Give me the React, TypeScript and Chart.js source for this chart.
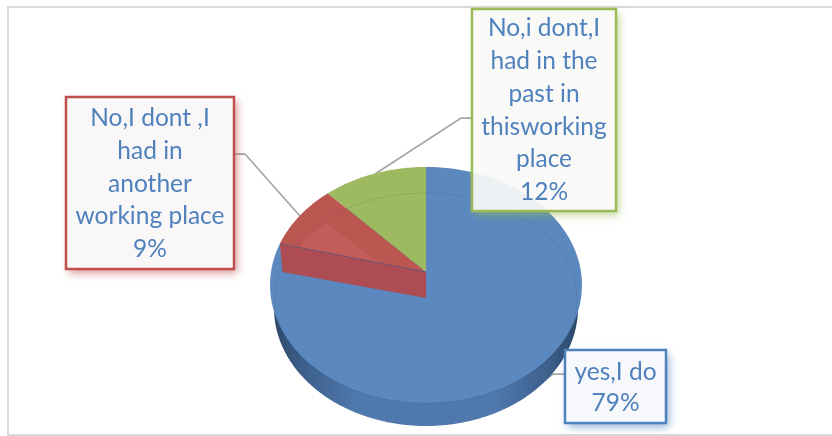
import React, { useEffect, useRef } from "react";
import { Chart, registerables } from "chart.js";

Chart.register(...registerables);

// Survey answers, clockwise from twelve o'clock
const categories = [
  "yes,I do",
  "No,I dont ,I had in another working place",
  "No,i dont,I had in the past in thisworking place",
];
const shares = [79, 9, 12];
const categoryLines = [
  ["yes,I do"],
  ["No,I dont ,I", "had in", "another", "working place"],
  ["No,i dont,I", "had in the", "past in", "thisworking", "place"],
];
const sliceColors = ["#5b88be", "#bb5650", "#9dba60"];

type Layer = { a: number; b: number; k: number; apexDy: number };

// Perspective applied to the top rim and to the rims below it, relative to the pie radius
const topRim: Layer = { a: 155 / 118, b: 116.6 / 118, k: -0.11, apexDy: -13 };
const innerRim: Layer = { a: 146 / 118, b: 103 / 118, k: 0, apexDy: 13 };
const baseRim: Layer = { a: 152 / 118, b: 1, k: 0, apexDy: 23 };

const callouts = [
  { left: 565, top: 350, right: 666, bottom: 423, firstLine: 372, lineStep: 31.5, border: "#4f81bd", fill: "rgba(246,248,251,0.95)", leader: [[565, 374], [553, 374], [525, 396]] },
  { left: 66, top: 97, right: 234, bottom: 269, firstLine: 118.5, lineStep: 32.6, border: "#c0504d", fill: "rgba(249,247,247,0.95)", leader: [[234, 154], [245, 154], [300, 216]] },
  { left: 472, top: 9, right: 616, bottom: 211, firstLine: 28.5, lineStep: 32.7, border: "#9bbb59", fill: "rgba(249,249,248,0.93)", leader: [[472, 118], [461, 118], [375, 174]] },
];

function project(el: any, layer: Layer, angle: number): [number, number] {
  const u = Math.cos(angle);
  const v = Math.sin(angle);
  const w = 1 + layer.k * v;
  const r = el.outerRadius;
  return [el.x + (layer.a * r * u) / w, el.y + layer.apexDy + (layer.b * r * v) / w];
}

function traceRim(ctx: CanvasRenderingContext2D, el: any, layer: Layer, moveFirst: boolean) {
  const steps = Math.max(2, Math.ceil((el.endAngle - el.startAngle) / 0.01));
  for (let i = 0; i <= steps; i++) {
    const p = project(el, layer, el.startAngle + ((el.endAngle - el.startAngle) * i) / steps);
    if (i === 0 && moveFirst) ctx.moveTo(p[0], p[1]);
    else ctx.lineTo(p[0], p[1]);
  }
}

function traceSlice(ctx: CanvasRenderingContext2D, el: any, layer: Layer) {
  ctx.beginPath();
  ctx.moveTo(el.x, el.y + layer.apexDy);
  traceRim(ctx, el, layer, false);
  ctx.closePath();
}

const tiltedPie = {
  id: "tiltedPie",
  beforeDraw(chart: any) {
    const { ctx, width } = chart;
    ctx.save();
    ctx.strokeStyle = "#d9d9d9";
    ctx.lineWidth = 2;
    ctx.beginPath();
    ctx.moveTo(width, 7);
    ctx.lineTo(8, 7);
    ctx.lineTo(8, 435);
    ctx.lineTo(width, 435);
    ctx.stroke();
    ctx.restore();
  },
  beforeDatasetDraw(chart: any) {
    const { ctx } = chart;
    const arcs = chart.getDatasetMeta(0).data;
    const [blue, red] = arcs;

    ctx.save();
    ctx.strokeStyle = "#a6a6a6";
    ctx.lineWidth = 1.75;
    callouts.forEach((c) => {
      ctx.beginPath();
      c.leader.forEach((p, i) => (i ? ctx.lineTo(p[0], p[1]) : ctx.moveTo(p[0], p[1])));
      ctx.stroke();
    });

    // Outer wall
    const wall = ctx.createLinearGradient(blue.x - 154, 0, blue.x + 154, 0);
    wall.addColorStop(0, "#2b4666");
    wall.addColorStop(0.1, "#3d5f8c");
    wall.addColorStop(0.28, "#4f79ad");
    wall.addColorStop(0.72, "#4f79ad");
    wall.addColorStop(0.9, "#3d5f8c");
    wall.addColorStop(1, "#2b4666");
    ctx.fillStyle = wall;
    arcs.forEach((el: any) => {
      traceSlice(ctx, el, baseRim);
      ctx.fill();
    });

    // Top faces
    arcs.forEach((el: any, i: number) => {
      ctx.fillStyle = sliceColors[i];
      traceSlice(ctx, el, topRim);
      ctx.fill();
    });

    // Lighter floor of the red slice, seen through its top
    ctx.save();
    traceSlice(ctx, red, topRim);
    ctx.clip();
    ctx.fillStyle = "#c25d5a";
    traceSlice(ctx, red, innerRim);
    ctx.fill();
    ctx.restore();

    // Faint lower rim
    ctx.strokeStyle = "rgba(40,70,110,0.13)";
    ctx.lineWidth = 1;
    arcs.forEach((el: any) => {
      ctx.beginPath();
      traceRim(ctx, el, { ...innerRim, a: 151 / 118, b: 105 / 118 }, true);
      ctx.stroke();
    });

    // Cut face of the red slice
    const a = project(red, topRim, red.startAngle);
    const b = project(red, { ...innerRim, a: 148 / 118, b: 105 / 118 }, red.startAngle);
    ctx.beginPath();
    ctx.moveTo(a[0], a[1]);
    ctx.lineTo(red.x, red.y + topRim.apexDy);
    ctx.lineTo(red.x, red.y + innerRim.apexDy);
    ctx.lineTo(b[0], b[1]);
    ctx.closePath();
    ctx.fillStyle = "#ae4c54";
    ctx.fill();
    ctx.beginPath();
    ctx.moveTo(a[0], a[1]);
    ctx.lineTo(red.x, red.y + topRim.apexDy);
    ctx.strokeStyle = "rgba(70,80,130,0.6)";
    ctx.stroke();
    ctx.restore();
    return false;
  },
  afterDatasetsDraw(chart: any) {
    const { ctx, width, height } = chart;
    const values: number[] = chart.data.datasets[0].data;
    const total = values.reduce((s, v) => s + v, 0);
    ctx.save();
    callouts.forEach((c, i) => {
      const w = c.right - c.left;
      const h = c.bottom - c.top;

      // Soft shadow outside the box only, so it does not tint the translucent fill
      ctx.save();
      ctx.beginPath();
      ctx.rect(0, 0, width, height);
      ctx.rect(c.left, c.top, w, h);
      ctx.clip("evenodd");
      ctx.shadowColor = c.border + "99";
      ctx.shadowBlur = 8;
      ctx.shadowOffsetX = 3;
      ctx.shadowOffsetY = 4;
      ctx.fillStyle = "#ffffff";
      ctx.fillRect(c.left, c.top, w, h);
      ctx.restore();

      ctx.fillStyle = c.fill;
      ctx.fillRect(c.left, c.top, w, h);
      ctx.strokeStyle = c.border;
      ctx.lineWidth = 2.5;
      ctx.strokeRect(c.left, c.top, w, h);

      ctx.fillStyle = "#4f81bd";
      ctx.font = "24.5px Lato";
      ctx.textAlign = "center";
      ctx.textBaseline = "middle";
      const lines = [...categoryLines[i], `${Math.round((values[i] / total) * 100)}%`];
      lines.forEach((line, n) => {
        ctx.fillText(line, (c.left + c.right) / 2, c.firstLine + n * c.lineStep);
      });
    });
    ctx.restore();
  },
};

export default function App() {
  const canvasRef = useRef<HTMLCanvasElement>(null);

  useEffect(() => {
    const chart = new Chart(canvasRef.current!, {
      type: "pie",
      data: {
        labels: categories,
        datasets: [{ data: shares, backgroundColor: sliceColors, borderWidth: 0 }],
      },
      options: {
        responsive: false,
        animation: false,
        layout: { padding: { left: 270, right: 250, top: 167, bottom: 33 } },
        plugins: { legend: { display: false }, tooltip: { enabled: false } },
      },
      plugins: [tiltedPie],
    } as any);
    return () => chart.destroy();
  }, []);

  return (
    <div style={{ position: "fixed", left: 0, top: 0, width: 832, height: 436, background: "#fff" }}>
      <canvas ref={canvasRef} width={832} height={436} style={{ display: "block" }} />
    </div>
  );
}
